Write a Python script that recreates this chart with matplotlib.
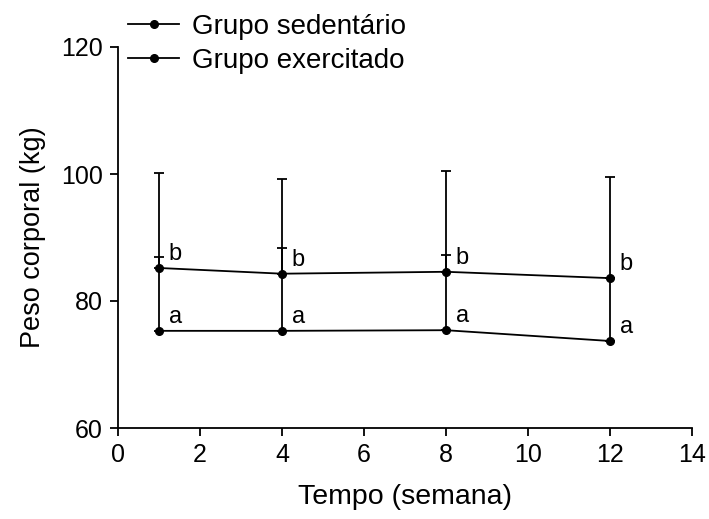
import matplotlib
matplotlib.use("Agg")
import matplotlib.pyplot as plt
from matplotlib.lines import Line2D
import numpy as np

plt.rcParams["font.family"] = ["Liberation Sans", "DejaVu Sans"]

semanas = [1, 4, 8, 12]
sedentario = [85.2, 84.3, 84.6, 83.6]
sedentario_ep = [1.8, 4.0, 2.6, 0.0]
exercitado = [75.3, 75.3, 75.4, 73.7]
exercitado_ep = [24.9, 23.9, 25.1, 25.8]
letra_sed = ["b", "b", "b", "b"]
letra_exe = ["a", "a", "a", "a"]
nomes = ["Grupo sedentário", "Grupo exercitado"]

fig = plt.figure(figsize=(7.09, 5.19), dpi=100)
ax = fig.add_axes([118 / 709, 1 - 428 / 519, (692 - 118) / 709, (428 - 47) / 519])

style = dict(color="black", lw=1.3, marker="o", ms=5.5, capsize=3.8,
             elinewidth=1.3, capthick=1.3)
zeros = np.zeros(len(semanas))
ax.errorbar(semanas, sedentario, yerr=[zeros, sedentario_ep], **style)
ax.errorbar(semanas, exercitado, yerr=[zeros, exercitado_ep], **style)

for x, y, t in zip(semanas, sedentario, letra_sed):
    ax.annotate(t, (x, y), xytext=(7, 2), textcoords="offset points",
                fontsize=17, va="bottom", ha="left")
for x, y, t in zip(semanas, exercitado, letra_exe):
    ax.annotate(t, (x, y), xytext=(7, 2), textcoords="offset points",
                fontsize=17, va="bottom", ha="left")

ax.set_xlim(0, 14)
ax.set_ylim(60, 120)
ax.set_xticks(range(0, 15, 2))
ax.set_yticks([60, 80, 100, 120])
for s in ["top", "right"]:
    ax.spines[s].set_visible(False)
for s in ["left", "bottom"]:
    ax.spines[s].set_linewidth(1.3)
ax.tick_params(direction="out", length=6, width=1.3, labelsize=18, pad=5)
ax.set_xlabel("Tempo (semana)", fontsize=20.5, labelpad=12)
ax.set_ylabel("Peso corporal (kg)", fontsize=19.5, labelpad=11)

handles = [Line2D([], [], color="black", lw=1.3, marker="o", ms=5.5) for _ in nomes]
fig.legend(handles, nomes, loc="upper left", bbox_to_anchor=(128 / 709, 1 - 14 / 519),
           frameon=False, fontsize=20, handlelength=1.85, handletextpad=0.45,
           labelspacing=0.28, borderpad=0, borderaxespad=0)

fig.savefig("out.png", dpi=100)
